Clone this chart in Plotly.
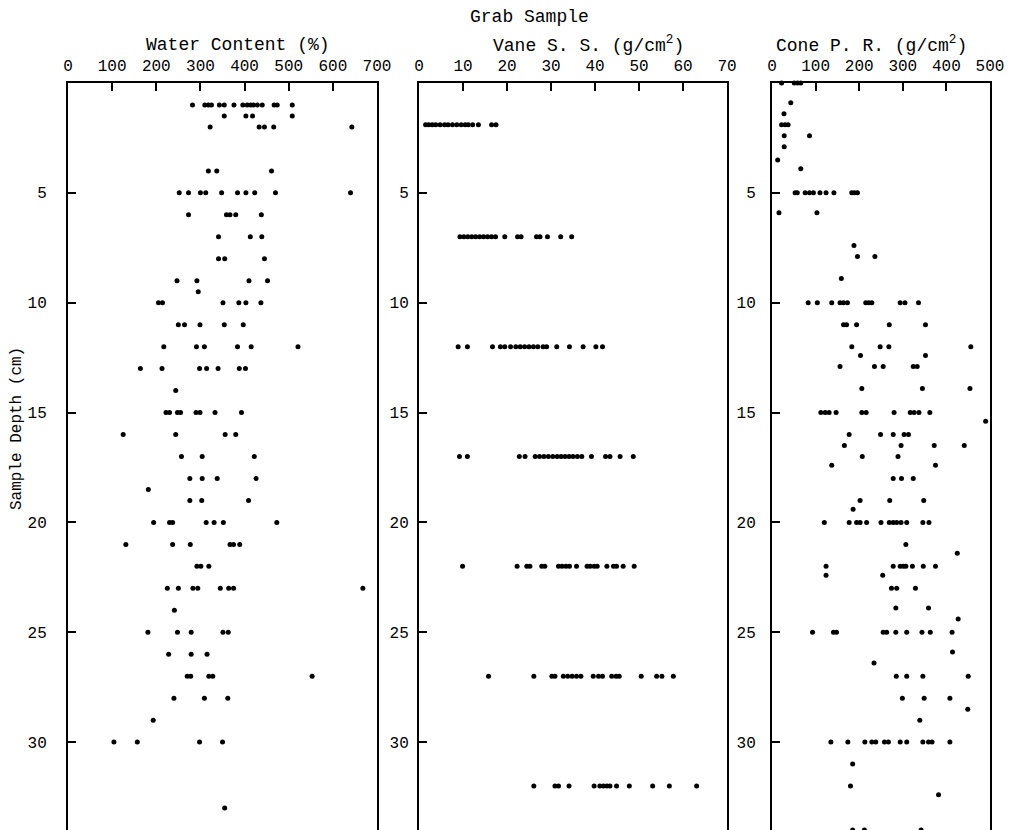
import plotly.graph_objects as go

# ---------------- data ----------------
water_ticks = [0, 100, 200, 300, 400, 500, 600, 700]
vane_ticks = [0, 10, 20, 30, 40, 50, 60, 70]
cone_ticks = [0, 100, 200, 300, 400, 500]
depth_ticks = [5, 10, 15, 20, 25, 30]

water_depths = [1, 1.5, 2, 4, 5, 6, 7, 8, 9, 9.5, 10, 11, 12, 13, 14, 15, 16, 17, 18, 18.5,
                19, 20, 21, 22, 23, 24, 25, 26, 27, 28, 29, 30, 33]
water_values = [
    [282, 310, 318, 325, 343, 354, 376, 396, 406, 414, 420, 429, 440, 467, 474, 508],
    [354, 403, 418, 508],
    [322, 433, 445, 466, 643],
    [318, 337, 461],
    [252, 273, 300, 312, 348, 384, 403, 423, 470, 640],
    [273, 359, 367, 380, 438],
    [341, 413, 439],
    [341, 355, 445],
    [247, 292, 410, 452],
    [295],
    [205, 214, 351, 387, 403, 437],
    [250, 264, 299, 354, 397],
    [217, 291, 309, 384, 415, 521],
    [164, 213, 298, 314, 340, 388, 402],
    [244],
    [222, 230, 248, 255, 290, 299, 333, 393],
    [125, 244, 356, 380],
    [257, 304, 422],
    [276, 304, 338, 426],
    [182],
    [276, 303, 409],
    [194, 230, 237, 313, 331, 352, 473],
    [131, 237, 277, 367, 375, 389],
    [292, 301, 319],
    [225, 250, 283, 294, 345, 364, 375, 668],
    [241],
    [181, 248, 279, 351, 363],
    [228, 279, 315],
    [270, 278, 319, 328, 553],
    [240, 309, 362],
    [193],
    [104, 157, 298, 350],
    [355],
]

vane_depths = [1.9, 7, 12, 17, 22, 27, 32]
vane_values = [
    [1.5, 2.2, 3.0, 3.8, 4.8, 5.8, 6.6, 7.6, 8.6, 9.6, 10.5, 11.2, 12.2, 13.5, 16.5, 17.5],
    [9.3, 10.2, 11.1, 12.0, 12.9, 13.8, 14.7, 15.6, 16.5, 17.4, 19.5,
     22.4, 23.2, 26.7, 27.5, 29.2, 32.2, 34.7],
    [8.9, 11.0, 16.7, 18.5, 19.5, 20.8, 22.0, 23.0, 24.0, 25.0, 26.0, 27.0,
     28.2, 29.0, 31.3, 34.2, 37.3, 40.2, 41.7],
    [9.2, 11.0, 22.8, 24.1, 26.4, 27.4, 28.4, 29.4, 30.4, 31.4, 32.3, 33.2,
     34.1, 35.0, 36.0, 37.0, 39.2, 42.4, 43.4, 45.7, 48.7],
    [9.9, 22.3, 24.5, 25.2, 27.9, 28.6, 31.7, 32.5, 33.4, 34.2, 35.8, 38.2, 38.9, 39.8,
     40.5, 42.7, 44.2, 44.9, 46.4, 48.9],
    [15.8, 26.1, 30.2, 30.9, 32.8, 33.8, 34.8, 35.8, 36.8, 39.6, 40.8, 41.7,
     43.8, 44.8, 45.5, 50.5, 54.0, 55.2, 57.8],
    [26.1, 30.9, 31.7, 34.1, 39.8, 41.1, 41.9, 42.7, 43.4, 44.9, 47.8, 53.1, 56.9, 63.1],
]

cone_depths = [0, 0.9, 1.4, 1.9, 2.4, 2.9, 3.5, 3.9, 5, 5.9, 7.4, 7.9, 8.9, 10, 11, 12, 12.4,
               12.9, 13.9, 15, 15.4, 16, 16.5, 17, 17.4, 18, 19, 19.4, 20, 21, 21.4, 22,
               22.4, 23, 23.9, 24.4, 25, 25.9, 26.4, 27, 28, 28.5, 29, 30, 31, 32, 32.4, 34]
cone_values = [
    [22, 51, 59, 66],
    [43],
    [27.5],
    [22, 30, 37],
    [28, 86],
    [28],
    [13],
    [66],
    [53, 58, 76, 86, 95, 110, 124, 142, 183, 189, 196],
    [16, 103],
    [188],
    [196, 236],
    [159],
    [83, 104, 137, 156, 164, 173, 215, 222, 229, 294, 305, 336],
    [164, 171, 194, 269, 352],
    [183, 248, 268, 456],
    [203, 352],
    [156, 235, 255, 324, 333],
    [206, 345, 454],
    [112, 122, 131, 147, 206, 216, 280, 317, 326, 337, 362],
    [490],
    [177, 249, 278, 303, 313],
    [166, 296, 372, 441],
    [207, 289],
    [137, 375],
    [278, 297, 324],
    [202, 270, 348],
    [186],
    [120, 177, 194, 202, 217, 250, 269, 278, 286, 296, 309, 346, 360],
    [307],
    [425],
    [124, 278, 294, 301, 307, 322, 347, 375],
    [124, 254],
    [274, 286, 329],
    [284, 359],
    [427],
    [93, 141, 148, 255, 263, 284, 309, 344, 363, 413],
    [414],
    [234],
    [285, 309, 346, 450],
    [299, 349, 408],
    [449],
    [339],
    [135, 174, 213, 229, 238, 258, 267, 294, 309, 346, 359, 367, 408],
    [185],
    [180],
    [382],
    [185, 212, 342],
]


def flatten(depths, values):
    xs, ys = [], []
    for d, row in zip(depths, values):
        for v in row:
            xs.append(v)
            ys.append(d)
    return xs, ys


FONT = "Liberation Mono"
OFF = 8                      # page body margin of the html page
W, H = 1012 - OFF, 830 - OFF
TOP = 83 - OFF
PLOT_H = H - TOP

fig = go.Figure()
for i, (dep, val) in enumerate([(water_depths, water_values),
                                 (vane_depths, vane_values),
                                 (cone_depths, cone_values)]):
    xs, ys = flatten(dep, val)
    sfx = "" if i == 0 else str(i + 1)
    fig.add_trace(go.Scatter(x=xs, y=ys, mode="markers", xaxis="x" + sfx, yaxis="y" + sfx,
                             marker=dict(color="black", size=5), cliponaxis=False,
                             showlegend=False, hoverinfo="skip"))

px = lambda p: (p - OFF) / W
py = lambda p: (H - (p - OFF)) / PLOT_H
domains = [(68, 377), (419, 727), (772, 990)]
xranges = [[0, 700], [0, 70], [0, 500]]
xticks = [water_ticks, vane_ticks, cone_ticks]
ystand = [16, 5, 11]

common = dict(showline=True, linewidth=2, linecolor="black", mirror=True, showgrid=False,
              zeroline=False, ticks="inside", ticklen=8, tickwidth=1.5, tickcolor="black",
              automargin=False)
layout = dict(width=W, height=H, margin=dict(l=0, r=0, t=TOP, b=0, autoexpand=False),
              paper_bgcolor="white", plot_bgcolor="white",
              font=dict(family=FONT, color="black", size=16))
for i in range(3):
    sfx = "" if i == 0 else str(i + 1)
    layout["xaxis" + sfx] = dict(domain=[px(domains[i][0]), px(domains[i][1])],
                                 range=xranges[i], side="top", tickvals=xticks[i],
                                 anchor="y" + sfx, tickfont=dict(size=16, family=FONT),
                                 ticklabelstandoff=4, **common)
    layout["yaxis" + sfx] = dict(domain=[0, 1], range=[34, 0], tickvals=depth_ticks,
                                 anchor="x" + sfx, tickfont=dict(size=16, family=FONT),
                                 ticklabelstandoff=ystand[i], **common)
fig.update_layout(**layout)

ann = [
    ("Grab Sample", 529, 17),
    ("Water Content (%)", 238, 45),
    ("Vane S. S. (g/cm<sup>2</sup>)", 588, 44),
    ("Cone P. R. (g/cm<sup>2</sup>)", 871, 44),
]
for text, x, y in ann:
    fig.add_annotation(text=text, x=px(x), y=py(y), xref="paper", yref="paper",
                       showarrow=False, xanchor="center", yanchor="middle",
                       font=dict(family=FONT, size=18, color="black"))
fig.add_annotation(text="Sample Depth (cm)", x=px(17), y=py(429), xref="paper",
                   yref="paper", showarrow=False, textangle=-90, xanchor="center",
                   yanchor="middle", font=dict(family=FONT, size=16, color="black"))

fig.write_html("out.html")
